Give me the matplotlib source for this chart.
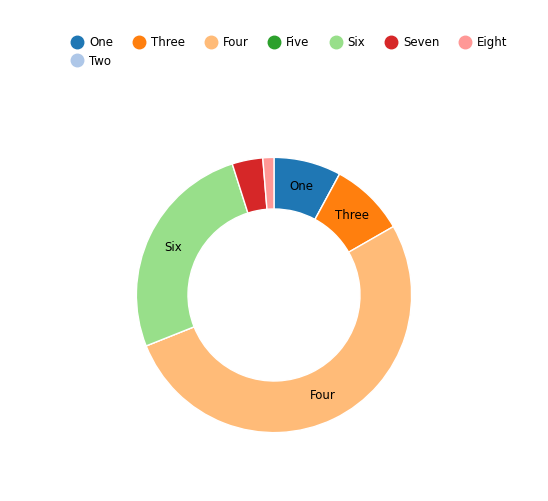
import numpy as np
import matplotlib.pyplot as plt
from matplotlib.lines import Line2D

labels = ["One", "Two", "Three", "Four", "Five", "Six", "Seven", "Eight"]
values = [7.9, 0, 8.8, 52.2, 0, 26.1, 3.6, 1.3]
colors = ["#1f77b4", "#aec7e8", "#ff7f0e", "#ffbb78", "#2ca02c", "#98df8a", "#d62728", "#ff9896"]
shown = ["One", "Three", "Four", "Six"]

fig = plt.figure(figsize=(5.48, 5.01), dpi=100)
ax = fig.add_axes([0.5 - 344/548/2, (501 - 467)/501, 344/548, 344/501])
ax.pie(values, colors=colors, startangle=90, counterclock=False,
       wedgeprops=dict(width=0.375, edgecolor="white", linewidth=1))
ax.set_aspect("equal")

total = sum(values)
start = 0
for lab, v in zip(labels, values):
    mid = start + v / total * 360 / 2
    start += v / total * 360
    if lab in shown:
        a = np.radians(90 - mid)
        r = 0.81
        ax.text(r * np.cos(a), r * np.sin(a), lab, ha="center", va="center", fontsize=8.5)

handles = [Line2D([], [], marker="o", linestyle="", markersize=9, color=c) for c in colors]
fig.legend(handles, labels, loc="upper left", bbox_to_anchor=(0.1, 0.95), ncol=7,
           frameon=False, fontsize=8.5, handletextpad=0.0, columnspacing=1.2)

fig.savefig("out.png")
